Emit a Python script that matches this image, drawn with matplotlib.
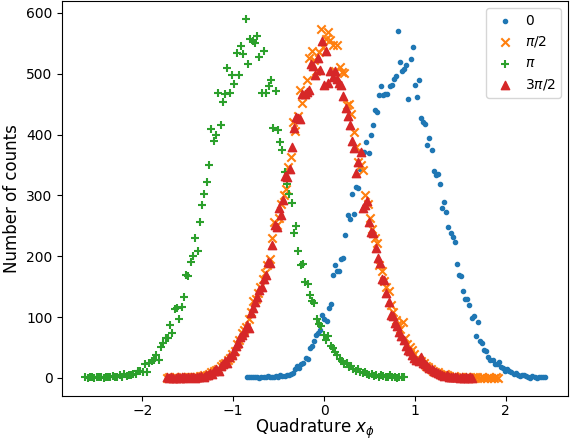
import numpy as np
import matplotlib
matplotlib.use('Agg')
import matplotlib.pyplot as plt

# Histogram counts; bin centres span the given ranges
counts_0 = [1, 2, 1, 1, 2, 1, 0, 2, 1, 2, 3, 1, 2, 2, 3, 2, 4, 3, 3, 5, 4, 6,
            8, 14, 19, 16, 22, 25, 33, 31, 49, 53, 60, 71, 74, 78, 104, 96, 93, 115, 121, 169,
            185, 175, 176, 196, 197, 235, 268, 261, 303, 270, 313, 312, 343, 371, 372, 388, 370,
            400, 415, 441, 437, 465, 480, 465, 466, 467, 479, 482, 491, 497, 571,
            519, 505, 508, 514, 458, 524, 544, 482, 462, 489, 427, 421, 418, 382, 394, 374, 340,
            334, 335, 318, 279, 289, 272, 248, 238, 232, 224, 187,
            169, 167, 143, 130, 130, 120, 98, 102, 68, 91, 60, 57, 45, 44, 35, 30, 30, 23, 23, 26,
            18, 16, 12, 15, 11, 9, 7, 8, 5, 3, 5, 5, 3, 2, 0, 3, 2, 0, 2, 1, 1, 1]
range_0 = (-0.851, 2.435)

counts_pi2 = [0, 1, 0, 1, 1, 0, 1, 0, 2, 1, 1, 2, 1,
              2, 3, 3, 5, 4, 7, 9, 11, 13, 15, 19, 22, 25, 30, 33, 40, 44,
              55, 62, 74, 78, 84, 97, 109, 126, 130, 140, 150, 162, 172, 185, 195, 230, 257, 252,
              262, 285, 300, 310, 347, 363, 421, 405, 430, 473, 452, 467,
              490, 525, 537, 522, 505, 535, 573, 544, 557, 568, 556, 548, 504, 547, 511, 502, 501,
              449, 450, 434, 404, 380, 355, 350, 341, 300, 285, 262, 245, 230,
              222, 186, 175, 160, 150, 142, 120, 108, 95, 88, 80, 91, 65, 55, 50, 45, 40, 33, 30,
              28, 24, 20, 18, 15, 12, 10, 9, 7, 5, 6,
              4, 3, 2, 3, 1, 2, 1, 0, 1, 2, 0, 1, 0, 1, 0, 1, 0, 0, 1, 0, 0, 1, 0]
range_pi2 = (-1.73, 1.92)

counts_pi = [1, 0, 2, 1, 0, 1, 2, 1, 0, 1, 2, 1, 3, 1, 2, 4, 2, 6, 3, 5,
             4, 7, 6, 12, 12, 9, 22, 10, 25, 28,
             30, 38, 30, 50, 58, 65, 65, 87, 74, 113,
             115, 97, 116, 133, 169, 167, 191, 201, 230, 209,
             256, 284, 302, 322, 350, 409, 389, 399, 468, 416,
             453, 466, 509, 468, 498, 483, 534, 498, 545, 532,
             590, 516, 557, 553, 551, 562, 527, 469, 537, 469,
             480, 490, 411, 472, 408, 388, 375, 338, 318, 302,
             288, 238, 250, 209, 185, 187, 158, 155, 137, 127,
             123, 96, 89, 85, 71, 63, 68, 52, 49, 42,
             37, 31, 28, 22, 24, 18, 20, 14, 12, 15,
             9, 8, 10, 6, 5, 7, 3, 4, 2, 5,
             3, 1, 2, 4, 1, 2, 0, 2, 1, 1]
range_pi = (-2.63, 0.88)

counts_3pi2 = [1, 0, 1, 0, 0, 1, 0, 1, 1, 0, 1, 2, 1, 0, 2, 1,
               3, 2, 5, 4, 8, 7, 11, 14, 12, 19, 22, 27, 24, 35,
               38, 44, 52, 57, 67, 71, 76, 87, 82, 107, 115, 125, 133, 144, 149, 163, 169, 191, 188,
               218, 251, 248, 279, 268, 293, 332, 331, 344, 380, 410, 429, 428, 426, 466, 467, 470,
               474, 516, 513, 498,
               525, 506, 553, 482, 537, 484, 505, 494, 505, 492, 484, 481, 463, 443, 430, 415, 390,
               378, 336, 355, 372,
               279, 284, 290, 257, 239, 238, 213, 197, 189, 162, 161, 139, 124, 104, 101, 90, 86,
               76, 68, 63, 52, 46, 44, 38, 33, 30, 28, 35, 25, 22, 19, 16, 14, 11, 9, 8, 6, 5, 3,
               4, 2, 2, 1, 2, 1, 0, 1, 0, 1, 0, 1, 0]
range_3pi2 = (-1.73, 1.635)

labels = ['0', r'$\pi/2$', r'$\pi$', r'$3\pi/2$']
markers = ['.', 'x', '+', '^']


def centers(rng, counts):
    return np.linspace(rng[0], rng[1], len(counts))


fig = plt.figure(figsize=(5.7, 4.41), dpi=100)
ax = fig.add_axes([0.1093, 0.1025, 0.8872, 0.8952])

series = [(range_0, counts_0), (range_pi2, counts_pi2),
          (range_pi, counts_pi), (range_3pi2, counts_3pi2)]
for (rng, cts), lab, mk in zip(series, labels, markers):
    ax.scatter(centers(rng, cts), cts, marker=mk, label=lab)

ax.tick_params(axis='x', pad=2.5)
ax.set_xlabel(r'Quadrature $x_\phi$', fontsize=12, labelpad=-0.75)
ax.set_ylabel('Number of counts', fontsize=12)
ax.legend(loc='upper right', handletextpad=0.4)
fig.savefig('out.png', dpi=100)
